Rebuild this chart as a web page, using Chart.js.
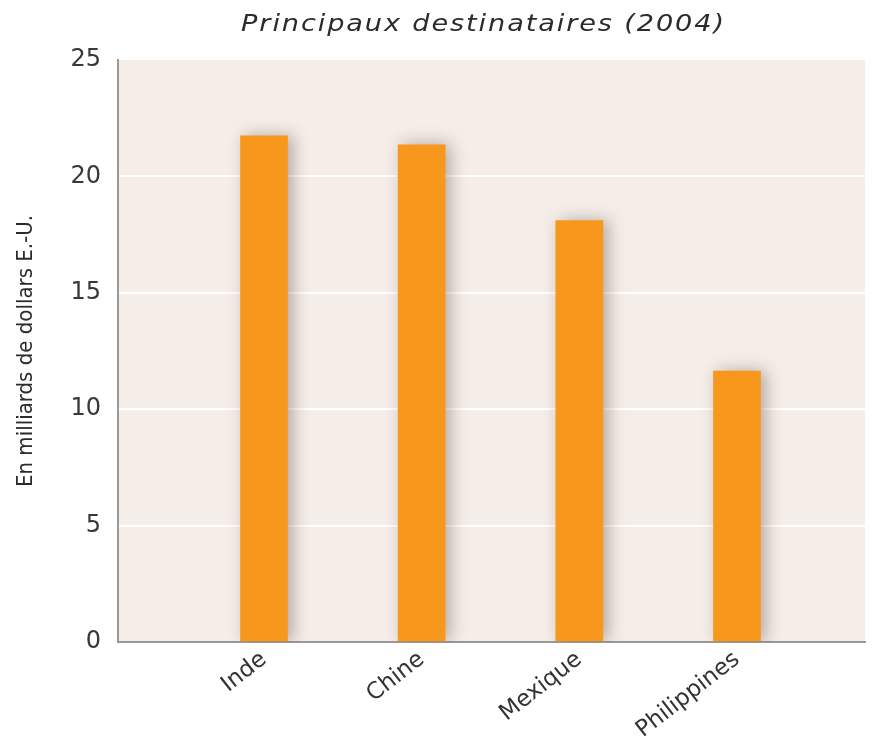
<!DOCTYPE html>
<html>
<head>
<meta charset="utf-8">
<script src="https://cdn.jsdelivr.net/npm/chart.js@4.4.1/dist/chart.umd.min.js"></script>
<style>
    html, body { margin: 0; padding: 0; background: #ffffff; }
    #wrap { width: 879px; height: 740px; position: relative; }
</style>
</head>
<body>
<div id="wrap"><canvas id="chart"></canvas></div>
<script>
// Données
const titre = 'Principaux destinataires (2004)';
const categories = ['Inde', 'Chine', 'Mexique', 'Philippines'];
const positions = [1, 2, 3, 4];
const montants = [21.74, 21.36, 18.1, 11.64];
const yTicks = [0, 5, 10, 15, 20, 25];

const fondPlot = '#f5ede8';
const orange = '#f7981d';

// fond du graphique
const fondPlugin = {
    id: 'fondPlot',
    beforeDraw(chart) {
        const { ctx, chartArea } = chart;
        ctx.save();
        ctx.fillStyle = fondPlot;
        ctx.fillRect(chartArea.left, chartArea.top, chartArea.right - chartArea.left, chartArea.bottom - chartArea.top);
        ctx.restore();
    }
};

// ombre portée des barres
const ombrePlugin = {
    id: 'ombre',
    beforeDatasetsDraw(chart) {
        const ctx = chart.ctx;
        ctx.save();
        ctx.shadowColor = 'rgba(60, 40, 30, 0.35)';
        ctx.shadowBlur = 16;
        ctx.shadowOffsetX = 5;
        ctx.shadowOffsetY = 0;
    },
    afterDatasetsDraw(chart) {
        chart.ctx.restore();
    }
};

// titre un peu élargi
const titrePlugin = {
    id: 'titre',
    afterDraw(chart) {
        const { ctx, chartArea } = chart;
        const cx = (chartArea.left + chartArea.right) / 2 - 8;
        ctx.save();
        ctx.translate(cx, 31);
        ctx.scale(1.18, 1);
        ctx.font = 'italic 23px "DejaVu Sans"';
        ctx.letterSpacing = '1.6px';
        ctx.fillStyle = '#2b2b2b';
        ctx.textAlign = 'center';
        ctx.textBaseline = 'alphabetic';
        ctx.fillText(titre, 0, 0);
        ctx.restore();
    }
};

new Chart(document.getElementById('chart'), {
    type: 'bar',
    data: {
        datasets: [{
            data: positions.map((x, i) => ({ x: x, y: montants[i] })),
            backgroundColor: orange,
            borderWidth: 0,
            barThickness: 47
        }]
    },
    options: {
        responsive: true,
        maintainAspectRatio: false,
        animation: false,
        layout: { padding: { left: 0, top: 60, right: 14, bottom: 0 } },
        plugins: {
            legend: { display: false },
            tooltip: { enabled: false }
        },
        scales: {
            x: {
                type: 'linear',
                offset: false,
                min: 0.074,
                max: 4.812,
                grid: { display: false, drawTicks: false },
                border: { display: true, color: '#9c9896', width: 2 },
                afterBuildTicks(scale) {
                    scale.ticks = positions.map(v => ({ value: v }));
                },
                afterFit(scale) {
                    scale.height = 98;
                },
                ticks: {
                    autoSkip: false,
                    minRotation: 38,
                    maxRotation: 38,
                    padding: 4,
                    color: '#333333',
                    font: { family: 'DejaVu Sans', size: 23 },
                    callback: (value) => categories[positions.indexOf(value)] || ''
                }
            },
            y: {
                min: 0,
                max: 25,
                afterBuildTicks(scale) {
                    scale.ticks = yTicks.map(v => ({ value: v }));
                },
                afterFit(scale) {
                    scale.width = 118;
                },
                grid: {
                    drawTicks: false,
                    lineWidth: 2,
                    color: (c) => (c.tick.value === 0 || c.tick.value === 25) ? 'rgba(0,0,0,0)' : '#ffffff'
                },
                border: { display: true, color: '#9c9896', width: 2 },
                ticks: {
                    padding: 17,
                    color: '#383838',
                    font: { family: 'DejaVu Sans', size: 24 }
                },
                title: {
                    display: true,
                    text: 'En milliards de dollars E.-U.',
                    color: '#2b2b2b',
                    font: { family: 'Liberation Sans Narrow, DejaVu Sans Condensed', size: 22, lineHeight: 1.2 },
                    padding: { top: 13, bottom: 0 }
                }
            }
        }
    },
    plugins: [fondPlugin, ombrePlugin, titrePlugin]
});
</script>
</body>
</html>
